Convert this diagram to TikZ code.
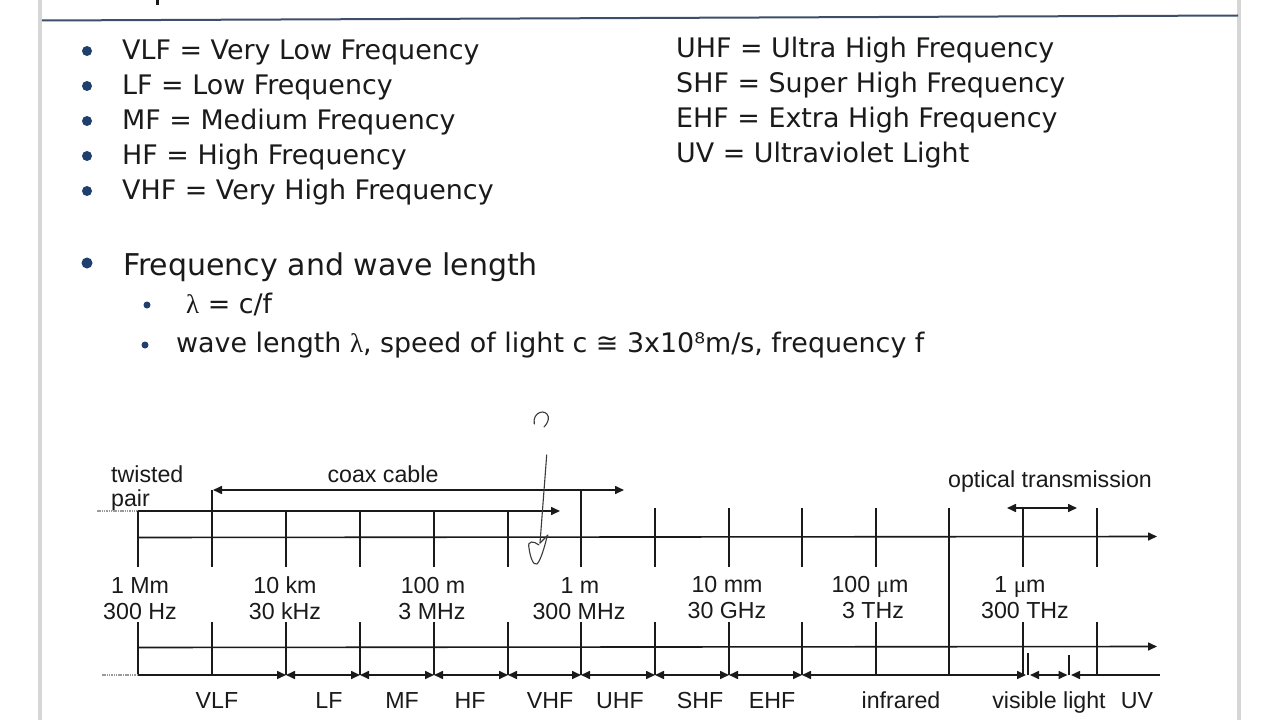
\documentclass[tikz,border=0pt]{standalone}
\usepackage{fontspec}
\setmainfont{DejaVu Sans}
\newfontfamily\arfont{Liberation Sans}
\newfontfamily\grkfont{Liberation Serif}
\usetikzlibrary{arrows.meta}
\definecolor{bulc}{HTML}{1F3F6E}
\definecolor{txt}{HTML}{1A1A1A}
\definecolor{lnc}{HTML}{1A1A1A}
\definecolor{rulec}{HTML}{3C4E68}
\definecolor{edgec}{HTML}{D6D6D6}
\definecolor{grayln}{HTML}{9A9A9A}
\definecolor{handc}{HTML}{3A3A3A}
\tikzset{
  bul/.style={circle, fill=bulc, inner sep=0pt, minimum size=10bp},
  sbul/.style={circle, fill=bulc, inner sep=0pt, minimum size=7bp},
  btxt/.style={anchor=base west, inner sep=0pt, text=txt, font=\fontsize{26.9bp}{30bp}\selectfont},
  bigtxt/.style={anchor=base west, inner sep=0pt, text=txt, font=\fontsize{30bp}{34bp}\selectfont},
  lab/.style={anchor=base, inner sep=0pt, text=txt, font=\arfont\fontsize{23.2bp}{27bp}\selectfont},
  labw/.style={lab, anchor=base west},
  ln/.style={draw=lnc, line width=1.6bp},
  gln/.style={draw=grayln, line width=1.5bp, dash pattern=on 1.5bp off 0.8bp},
  arr/.style={ln, -{Triangle[length=9bp,width=8bp]}},
  larr/.style={ln, {Triangle[length=9bp,width=8bp]}-},
  darr/.style={ln, {Triangle[length=9bp,width=8bp]}-{Triangle[length=9bp,width=8bp]}},
  hand/.style={draw=handc, line width=1.1bp, line cap=round, line join=round},
}
\begin{document}
\begin{tikzpicture}[x=1bp, y=-1bp]
\useasboundingbox (0,0) rectangle (1280,720);
\fill[white] (0,0) rectangle (1280,720);
% page edges and header rule
\fill[edgec] (37.5,0) rectangle (42,720);
\fill[edgec] (1237,0) rectangle (1240.5,720);
\draw[rulec, line width=2bp] (42,20.5) -- (1238,15.5);
\fill[txt] (156,0) rectangle (158.5,5);

% abbreviation list
\node[bul] (b1) at (87,51) {};
\node[bul] (b2) at (87,86) {};
\node[bul] (b3) at (87,121) {};
\node[bul] (b4) at (87,156) {};
\node[bul] (b5) at (87,191) {};
\node[btxt] (t1) at (122,60) {VLF = Very Low Frequency};
\node[btxt] (t2) at (122,95) {LF = Low Frequency};
\node[btxt] (t3) at (122,130) {MF = Medium Frequency};
\node[btxt] (t4) at (122,165) {HF = High Frequency};
\node[btxt] (t5) at (122,200) {VHF = Very High Frequency};
\node[btxt] (r1) at (676,57.5) {UHF = Ultra High Frequency};
\node[btxt] (r2) at (676,93) {SHF = Super High Frequency};
\node[btxt] (r3) at (676,128) {EHF = Extra High Frequency};
\node[btxt] (r4) at (676,163) {UV = Ultraviolet Light};

\node[bul, minimum size=11bp] (b6) at (87,263) {};
\node[bigtxt] (fw) at (123,275) {Frequency and wave length};
\node[sbul] (b7) at (147,305) {};
\node[btxt] (lam) at (186,313) {{\grkfont λ} = c/f};
\node[sbul] (b8) at (145,345) {};
\node[btxt] (wl) at (176,352) {wave length {\grkfont λ}, speed of light c ≅ 3x10⁸m/s, frequency f};

% diagram labels
\node[labw] (tw1) at (111,482) {twisted};
\node[labw] (tw2) at (111,506) {pair};
\node[lab] (coax) at (383,482) {coax cable};
\node[lab] (opt) at (1050,487) {optical transmission};

% named coordinates for the range arrows
\coordinate (tpg) at (97,511);
\coordinate (tps) at (138,511);
\coordinate (tpe) at (560,511);
\coordinate (cxs) at (213,490);
\coordinate (cxe) at (624,490);
\coordinate (ops) at (1007,508);
\coordinate (ope) at (1077,508);
\coordinate (a1s) at (138,537.5);
\coordinate (a1e) at (1157,536.5);
\coordinate (a2s) at (138,647.5);
\coordinate (a2e) at (1157,646.5);

% axes
\draw[arr] (a1s) -- (a1e);
\draw[arr] (a2s) -- (a2e);
\draw[gln] (tpg) -- (tps);
\draw[arr] (tps) -- (tpe);
\draw[darr] (cxs) -- (cxe);
\draw[darr] (ops) -- (ope);

% upper ticks
\foreach \x/\t in {138/511,212/490,286/511,360/511,434/511,508/511,581/490,655/508,729/508,802/508,876/508,1023/508,1097/508}
  \draw[ln] (\x,\t) -- (\x,567);
\draw[ln] (949,508) -- (949,675);
% lower ticks
\foreach \x in {138,212,286,360,434,508,581,655,729,802,876,1023,1097}
  \draw[ln] (\x,622) -- (\x,675);
\draw[ln] (1028,653) -- (1028,675);
\draw[ln] (1069,655) -- (1069,675);

% band arrows
\coordinate (bg) at (102,675);
\foreach \n/\x in {0/138,1/286,2/360,3/434,4/508,5/581,6/655,7/729,8/802}
  \coordinate (bb\n) at (\x,675);
\draw[gln] (bg) -- (bb0);
\draw[arr] (bb0) -- (bb1);
\draw[darr] (bb1) -- (bb2);
\draw[darr] (bb2) -- (bb3);
\draw[darr] (bb3) -- (bb4);
\draw[darr] (bb4) -- (bb5);
\draw[darr] (bb5) -- (bb6);
\draw[darr] (bb6) -- (bb7);
\draw[darr] (bb7) -- (bb8);
\coordinate (ire) at (1026,675);
\coordinate (vls) at (1030,675);
\coordinate (vle) at (1067.5,675);
\coordinate (uvs) at (1071,675);
\coordinate (uve) at (1160,675);
\draw[darr] (bb8) -- (ire);
\draw[darr] (vls) -- (vle);
\draw[larr] (uvs) -- (uve);

% wavelength / frequency labels
\node[lab] (l1a) at (140,593) {1 Mm};
\node[lab] (l1b) at (140,619) {300 Hz};
\node[lab] (l2a) at (285,593) {10 km};
\node[lab] (l2b) at (285,619) {30 kHz};
\node[lab] (l3a) at (433,593) {100 m};
\node[lab] (l3b) at (432,619) {3 MHz};
\node[lab] (l4a) at (580,593) {1 m};
\node[lab] (l4b) at (579,619) {300 MHz};
\node[lab] (l5a) at (727,592) {10 mm};
\node[lab] (l5b) at (727,618) {30 GHz};
\node[lab] (l6a) at (870,592) {100 {\grkfont μ}m};
\node[lab] (l6b) at (873,618) {3 THz};
\node[lab] (l7a) at (1020,592) {1 {\grkfont μ}m};
\node[lab] (l7b) at (1025,618) {300 THz};

% band names
\node[lab] (n1) at (217,708) {VLF};
\node[lab] (n2) at (329,708) {LF};
\node[lab] (n3) at (402,708) {MF};
\node[lab] (n4) at (470,708) {HF};
\node[lab] (n5) at (550,708) {VHF};
\node[lab] (n6) at (620,708) {UHF};
\node[lab] (n7) at (700,708) {SHF};
\node[lab] (n8) at (772,708) {EHF};
\node[lab] (n9) at (901,708) {infrared};
\node[lab] (n10) at (1049,708) {visible light};
\node[lab] (n11) at (1137,708) {UV};

% handwritten annotation
\draw[hand] (534.3,424) .. controls (532,412) and (546,408) .. (548.3,416.7) .. controls (549,421) and (546,425) .. (544,427);
\draw[hand] (546.7,455) -- (540,543);
\draw[hand] (540,543) -- (548,535);
\draw[hand] (539,545) .. controls (534,541) and (527,540) .. (529,548) .. controls (530,556) and (533,566) .. (537,564) .. controls (541,560) and (545,545) .. (547,537);
\end{tikzpicture}
\end{document}
